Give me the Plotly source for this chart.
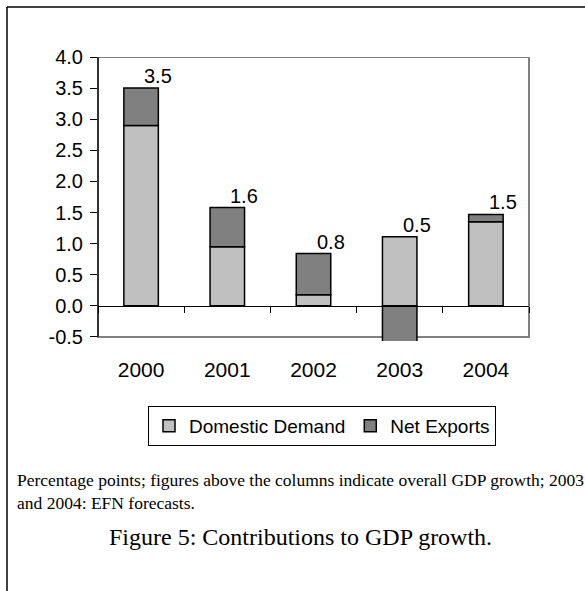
import plotly.graph_objects as go

# ---- data ----
years = ["2000", "2001", "2002", "2003", "2004"]
domestic_demand = [2.9, 0.95, 0.18, 1.11, 1.35]
net_exports = [0.6, 0.63, 0.66, -0.6, 0.12]
gdp_growth_labels = ["3.5", "1.6", "0.8", "0.5", "1.5"]
y_ticks = [-0.5, 0.0, 0.5, 1.0, 1.5, 2.0, 2.5, 3.0, 3.5, 4.0]

# ---- layout geometry (pixels) ----
W, H = 585, 591
L, R, T, B = 98, 56, 57, 250
Y_MIN, Y_MAX = -0.565, 4.0
plot_w = W - L - R
plot_h = H - T - B


def px_x(px):
    return (px - L) / plot_w


def px_y(py):
    return (H - B - py) / plot_h


SANS = "Liberation Sans, Arial, sans-serif"
SERIF = "Liberation Serif, Times New Roman, serif"

fig = go.Figure()
fig.add_trace(go.Bar(
    x=years, y=domestic_demand, name="Domestic Demand",
    marker=dict(color="#C0C0C0", line=dict(color="black", width=1.5)),
))
fig.add_trace(go.Bar(
    x=years, y=net_exports, name="Net Exports",
    marker=dict(color="#808080", line=dict(color="black", width=1.5)),
))

# labels above the positive stack (x given as category index)
for i, (dd, nx, lab) in enumerate(zip(domestic_demand, net_exports, gdp_growth_labels)):
    top = dd + max(nx, 0)
    fig.add_annotation(x=i, y=top, text=lab, showarrow=False,
                       xanchor="center", yanchor="middle",
                       xshift=17, yshift=12,
                       font=dict(family=SANS, size=20, color="black"))

zero_pos = (0 - Y_MIN) / (Y_MAX - Y_MIN)

shapes = [
    # plot frame (gray)
    dict(type="rect", xref="paper", yref="y", x0=0, x1=1, y0=y_ticks[0], y1=y_ticks[-1],
         line=dict(color="#808080", width=2), layer="below"),
    # y axis line (black)
    dict(type="line", xref="paper", yref="y", x0=0, x1=0, y0=y_ticks[0], y1=y_ticks[-1],
         line=dict(color="black", width=1.2), layer="above"),
    # outer figure box
    dict(type="line", xref="paper", yref="paper", x0=px_x(7), x1=px_x(W + 5),
         y0=px_y(7), y1=px_y(7), line=dict(color="black", width=1.5)),
    dict(type="line", xref="paper", yref="paper", x0=px_x(7), x1=px_x(7),
         y0=px_y(7), y1=px_y(H + 5), line=dict(color="black", width=1.5)),
]

fig.add_annotation(
    xref="paper", yref="paper", x=px_x(15), y=px_y(468), xanchor="left", yanchor="top",
    align="left", showarrow=False,
    text="Percentage points; figures above the columns indicate overall GDP growth; 2003<br>and 2004: EFN forecasts.",
    font=dict(family=SERIF, size=17.5, color="black"),
)
fig.add_annotation(
    xref="paper", yref="paper", x=px_x(300), y=px_y(537), xanchor="center", yanchor="middle",
    showarrow=False, text="Figure 5: Contributions to GDP growth.",
    font=dict(family=SERIF, size=24, color="black"),
)

fig.update_layout(
    width=W, height=H,
    margin=dict(l=L, r=R, t=T, b=B),
    paper_bgcolor="white", plot_bgcolor="white",
    barmode="relative", bargap=0.6,
    showlegend=True,
    legend=dict(orientation="h", x=px_x(322), xanchor="center", y=px_y(406), yanchor="top",
                bordercolor="black", borderwidth=1, bgcolor="white",
                font=dict(family=SANS, size=19, color="black"),
                itemwidth=30, traceorder="normal"),
    shapes=shapes,
    font=dict(family=SANS, color="black"),
)
fig.update_xaxes(
    type="category", range=[-0.5, len(years) - 0.5], autorange=False,
    anchor="free", position=zero_pos,
    showline=True, linecolor="black", linewidth=1.2,
    ticks="outside", tickson="boundaries", ticklen=6, tickcolor="black", tickwidth=1,
    ticklabelstandoff=45, tickangle=0,
    tickfont=dict(family=SANS, size=21, color="black"),
    showgrid=False, zeroline=False,
)
fig.update_yaxes(
    range=[Y_MIN, Y_MAX], autorange=False,
    tickvals=y_ticks, ticktext=[f"{v:.1f}" for v in y_ticks],
    ticks="outside", ticklen=7, tickcolor="black", tickwidth=1,
    ticklabelstandoff=3,
    showline=False, showgrid=False, zeroline=False,
    tickfont=dict(family=SANS, size=20, color="black"),
)

fig.write_html("out.html")
